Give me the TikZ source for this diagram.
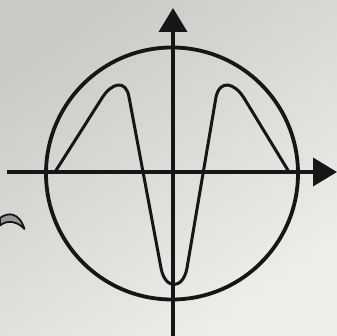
\documentclass[tikz,border=0pt]{standalone}
\usetikzlibrary{arrows.meta}
\definecolor{ink}{RGB}{22,22,22}
\definecolor{paperdark}{RGB}{202,202,198}
\definecolor{paperlight}{RGB}{238,238,234}
\definecolor{fraggray}{RGB}{150,150,148}
\begin{document}
\begin{tikzpicture}[x=1pt,y=-1pt,
  axisline/.style={draw=ink,line width=3.8pt,-{Triangle[length=24pt,width=28pt]}},
  rim/.style={draw=ink,line width=3.8pt},
  wave/.style={draw=ink,line width=3pt,line join=round,line cap=round}]
\useasboundingbox (0,0) rectangle (337,336);
\shade[top color=paperdark,bottom color=paperlight,shading angle=35] (0,0) rectangle (337,336);
% coordinates
\coordinate (C) at (172,173.5);
\coordinate (xL) at (7,172);
\coordinate (xR) at (337,172);
\coordinate (yB) at (173,336);
\coordinate (yT) at (173,8);
% circle
\draw[rim] (C) circle[radius=126pt];
% axes
\draw[axisline] (xL) -- (xR);
\draw[axisline] (yB) -- (yT);
% wave
\draw[wave] (55,172) -- (102,98)
  .. controls (111.6,82.8) and (125.8,79) .. (129,97)
  -- (161,268)
  .. controls (165,290) and (183,290) .. (187,268)
  -- (216,97)
  .. controls (220.2,79) and (234.4,82.8) .. (244,98)
  -- (289,172);
% fragment at left edge
\draw[ink,line width=1.8pt,line join=round,fill=fraggray]
  (0,218) .. controls (8,212) and (19,212) .. (24.5,229)
  .. controls (18,222) and (8,219) .. (0,225.5) -- cycle;
\end{tikzpicture}
\end{document}
